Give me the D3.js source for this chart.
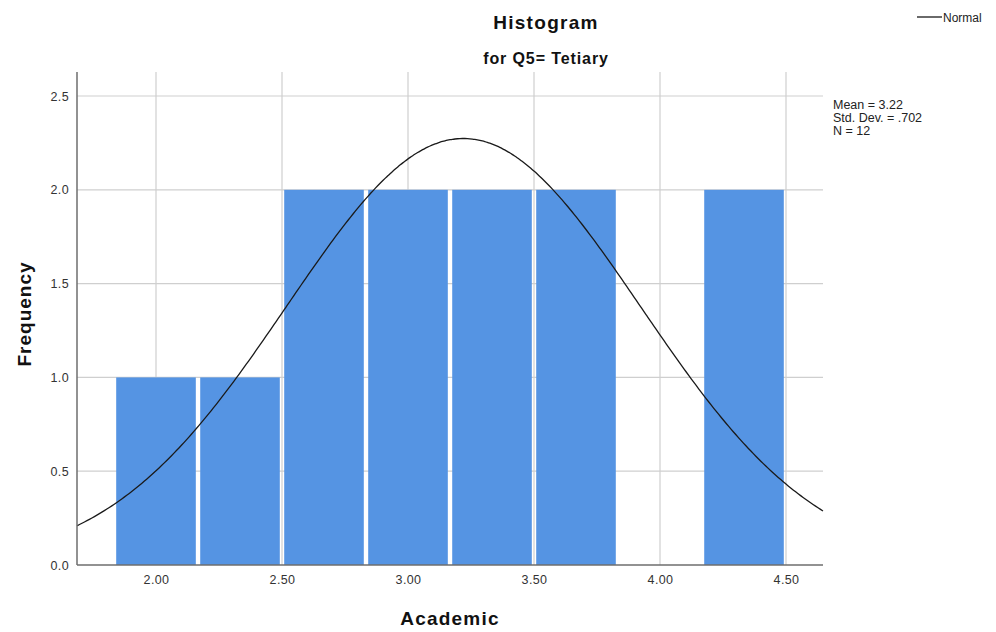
<!DOCTYPE html>
<html>
<head>
<meta charset="utf-8">
<script src="https://cdn.jsdelivr.net/npm/d3@7"></script>
<style>
  body { margin: 0; background: #fff; }
  svg { display: block; font-family: "Liberation Sans", Arial, sans-serif; }
</style>
</head>
<body>
<svg id="chart" width="996" height="632"></svg>
<script>
// Histogram of Academic scores, Q5 = Tetiary
const binEdges = [1.8333, 2.1667, 2.5, 2.8333, 3.1667, 3.5, 3.8333, 4.1667, 4.5];
const binCounts = [1, 1, 2, 2, 2, 2, 0, 2];
const xTicks = [2.0, 2.5, 3.0, 3.5, 4.0, 4.5];
const yTicks = [0, 0.5, 1.0, 1.5, 2.0, 2.5];
const statsMean = 3.22;
const statsSD = 0.702;
const statsN = 12;
const statLines = ["Mean = 3.22", "Std. Dev. = .702", "N = 12"];

const svg = d3.select("#chart");
const plotLeft = 77, plotRight = 823, plotTop = 72, plotBottom = 565;

const x = d3.scaleLinear().domain([1.6865, 4.6468]).range([plotLeft, plotRight]);
const y = d3.scaleLinear().domain([0, 2.628]).range([plotBottom, plotTop]);

// gridlines
const grid = svg.append("g").attr("stroke", "#cfcfcf").attr("stroke-width", 1.2);
grid.selectAll("line.h").data(yTicks.filter(d => d > 0)).join("line")
  .attr("x1", plotLeft).attr("x2", plotRight)
  .attr("y1", d => y(d)).attr("y2", d => y(d));
grid.selectAll("line.v").data(xTicks).join("line")
  .attr("x1", d => x(d)).attr("x2", d => x(d))
  .attr("y1", plotTop).attr("y2", plotBottom);

// bars
const bins = binCounts.map((c, i) => ({ x0: binEdges[i], x1: binEdges[i + 1], count: c }));
svg.append("g").selectAll("rect").data(bins.filter(b => b.count > 0)).join("rect")
  .attr("x", d => x(d.x0) + 2.2)
  .attr("width", d => x(d.x1) - x(d.x0) - 4.4)
  .attr("y", d => y(d.count))
  .attr("height", d => y(0) - y(d.count))
  .attr("fill", "#5594e3");

// normal curve scaled to counts
const binWidth = binEdges[1] - binEdges[0];
const pdf = v => statsN * binWidth * Math.exp(-0.5 * ((v - statsMean) / statsSD) ** 2) / (statsSD * Math.sqrt(2 * Math.PI));
const xs = d3.range(0, 301).map(i => x.domain()[0] + (x.domain()[1] - x.domain()[0]) * i / 300);
svg.append("path")
  .datum(xs)
  .attr("fill", "none")
  .attr("stroke", "#1a1a1a")
  .attr("stroke-width", 1.3)
  .attr("d", d3.line().x(d => x(d)).y(d => y(pdf(d))).curve(d3.curveBasis));

// axes
const xAxis = d3.axisBottom(x).tickValues(xTicks).tickFormat(d3.format(".2f")).tickSize(0).tickPadding(10);
const gx = svg.append("g").attr("transform", `translate(0,${plotBottom})`).call(xAxis);
gx.select(".domain").attr("stroke", "#6e6e6e").attr("stroke-width", 1.5).attr("d", `M${plotLeft},0H${plotRight}`);

const yAxis = d3.axisLeft(y).tickValues(yTicks).tickFormat(d3.format(".1f")).tickSize(0).tickPadding(8);
const gy = svg.append("g").attr("transform", `translate(${plotLeft},0)`).call(yAxis);
gy.select(".domain").attr("stroke", "#6e6e6e").attr("stroke-width", 1.5).attr("d", `M0,${plotTop}V${plotBottom}`);

svg.selectAll(".tick text")
  .attr("font-family", "'Liberation Sans', Arial, sans-serif")
  .attr("font-size", 12.5).attr("letter-spacing", 0.4).attr("fill", "#333");

// titles
const bold = (sel) => sel.attr("font-weight", "bold").attr("fill", "#111").attr("text-anchor", "middle");
svg.append("text").attr("x", 546).attr("y", 29).attr("font-size", 19).attr("letter-spacing", 1.3)
  .call(bold).text("Histogram");
svg.append("text").attr("x", 546).attr("y", 64).attr("font-size", 16).attr("letter-spacing", 0.9)
  .call(bold).text("for Q5= Tetiary");
svg.append("text").attr("x", 450).attr("y", 625).attr("font-size", 19).attr("letter-spacing", 1.2)
  .call(bold).text("Academic");
svg.append("text").attr("transform", "translate(31,314) rotate(-90)").attr("font-size", 19).attr("letter-spacing", 1.0)
  .call(bold).text("Frequency");

// legend
svg.append("line").attr("x1", 917).attr("x2", 942).attr("y1", 17).attr("y2", 17)
  .attr("stroke", "#1a1a1a").attr("stroke-width", 1.3);
svg.append("text").attr("x", 943).attr("y", 21.5).attr("font-size", 12).attr("fill", "#222").text("Normal");

// statistics box
svg.append("g").selectAll("text").data(statLines).join("text")
  .attr("x", 833).attr("y", (d, i) => 109 + i * 13)
  .attr("font-size", 12.5).attr("fill", "#222").text(d => d);
</script>
</body>
</html>
